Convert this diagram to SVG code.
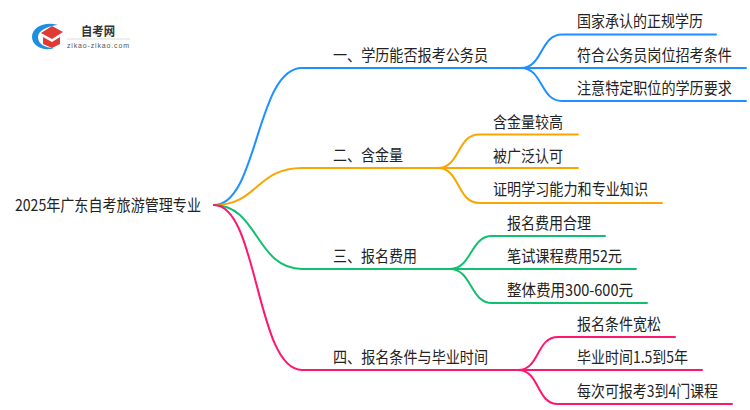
<svg xmlns="http://www.w3.org/2000/svg" width="750" height="410" viewBox="0 0 750 410">
<style>
text{font-family:"Noto Sans CJK SC","Noto Sans",sans-serif;fill:#222;font-size:16px}
.c path,.c line{fill:none;stroke-width:2;stroke-linecap:round}
.b{stroke:#1e90ff}.o{stroke:#f9a602}.g{stroke:#10c070}.p{stroke:#ff1670}
</style>
<rect width="750" height="410" fill="#fff"/>
<g id="logo">
<path d="M58 25C44 21 32 28 32 37C32 46 44 52 54 48C45 48 38 44 38 37C38 31 47 26 58 25Z" fill="#1e8fe0"/>
<path d="M41 33L52 26L63 32L52 39Z" fill="#e03a35"/>
<path d="M43 37L52 42L60 37V44L52 48L43 44Z" fill="#e03a35"/>
<text x="81" y="35.500" font-weight="700" textLength="34" lengthAdjust="spacingAndGlyphs" style="fill:#333;font-size:12.500px">自考网</text>
<line x1="67" y1="39" x2="130" y2="39" stroke="#ddd"/>
<text x="67" y="47.500" textLength="62" style="font-family:'Liberation Sans',sans-serif;fill:#555;font-size:7px">zikao-zikao.com</text>
</g>
<g class="c" id="connectors">
<path class="b" d="M214 205C258 205 256 68 302 68H521"/>
<path class="b" d="M521 68C543 68 540 34.500 562 34.500H716"/>
<line class="b" x1="521" y1="68" x2="746" y2="68"/>
<path class="b" d="M521 68C543 68 540 101 562 101H746"/>
<path class="o" d="M214 205C258 205 256 168 302 168H438"/>
<path class="o" d="M438 168C460 168 457 134.500 479 134.500H578"/>
<line class="o" x1="438" y1="168" x2="578" y2="168"/>
<path class="o" d="M438 168C460 168 457 203 479 203H662"/>
<path class="g" d="M214 205C258 205 256 269 302 269H450"/>
<path class="g" d="M450 269C472 269 470 236 492 236H605"/>
<line class="g" x1="450" y1="269" x2="636" y2="269"/>
<path class="g" d="M450 269C472 269 470 303 492 303H647"/>
<path class="p" d="M214 205C258 205 256 370 302 370H518"/>
<path class="p" d="M518 370C540 370 536 337 558 337H675"/>
<line class="p" x1="518" y1="370" x2="702" y2="370"/>
<path class="p" d="M518 370C540 370 536 404 558 404H732"/>
</g>
<g id="root"><text x="15" y="211" textLength="186" lengthAdjust="spacingAndGlyphs">2025年广东自考旅游管理专业</text></g>
<g id="n1"><text x="333" y="61" textLength="155" lengthAdjust="spacingAndGlyphs">一、学历能否报考公务员</text></g>
<g id="n1a"><text x="577" y="27" textLength="126" lengthAdjust="spacingAndGlyphs">国家承认的正规学历</text></g>
<g id="n1b"><text transform="translate(577 61) scale(.88 1)">符合公务员岗位招考条件</text></g>
<g id="n1c"><text transform="translate(577 94) scale(.88 1)">注意特定职位的学历要求</text></g>
<g id="n2"><text x="333" y="161" textLength="70" lengthAdjust="spacingAndGlyphs">二、含金量</text></g>
<g id="n2a"><text x="493" y="128" textLength="70" lengthAdjust="spacingAndGlyphs">含金量较高</text></g>
<g id="n2b"><text x="493" y="162" textLength="70" lengthAdjust="spacingAndGlyphs">被广泛认可</text></g>
<g id="n2c"><text x="493" y="195" textLength="155" lengthAdjust="spacingAndGlyphs">证明学习能力和专业知识</text></g>
<g id="n3"><text x="333" y="262" textLength="84" lengthAdjust="spacingAndGlyphs">三、报名费用</text></g>
<g id="n3a"><text x="507" y="229" textLength="84" lengthAdjust="spacingAndGlyphs">报名费用合理</text></g>
<g id="n3b"><text x="507" y="262" textLength="115" lengthAdjust="spacingAndGlyphs">笔试课程费用52元</text></g>
<g id="n3c"><text x="507" y="296" textLength="126" lengthAdjust="spacingAndGlyphs">整体费用300-600元</text></g>
<g id="n4"><text x="333" y="363" textLength="155" lengthAdjust="spacingAndGlyphs">四、报名条件与毕业时间</text></g>
<g id="n4a"><text x="577" y="330" textLength="84" lengthAdjust="spacingAndGlyphs">报名条件宽松</text></g>
<g id="n4b"><text x="577" y="363" textLength="111" lengthAdjust="spacingAndGlyphs">毕业时间1.5到5年</text></g>
<g id="n4c"><text x="577" y="397" textLength="141" lengthAdjust="spacingAndGlyphs">每次可报考3到4门课程</text></g>
</svg>
